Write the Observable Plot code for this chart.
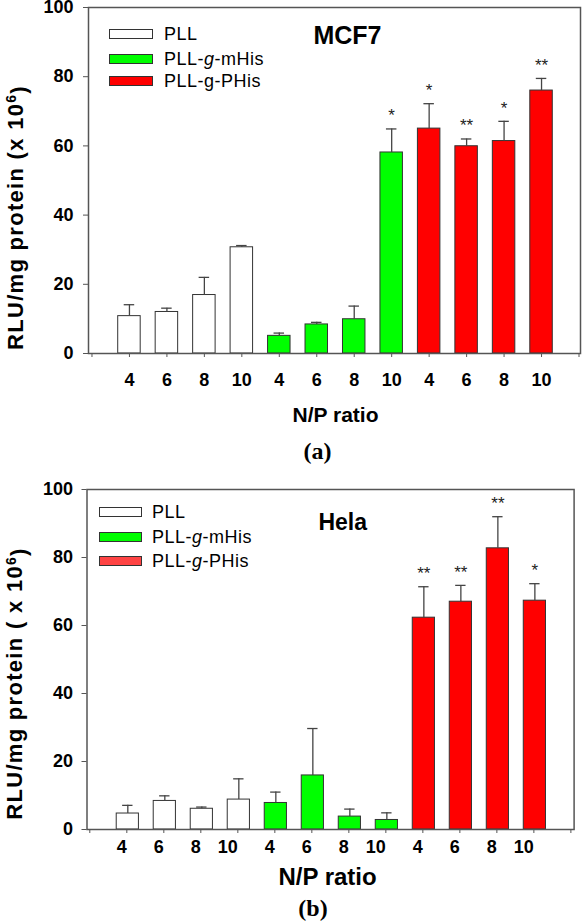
<!DOCTYPE html>
<html><head><meta charset="utf-8">
<script src="https://cdn.jsdelivr.net/npm/d3@7"></script>
<script src="https://cdn.jsdelivr.net/npm/@observablehq/plot@0.6"></script>
<style>
body{margin:0;background:#fff;}
#wrap{position:relative;width:584px;height:922px;font-family:"Liberation Sans",Arial,sans-serif;color:#000;overflow:hidden;}
.pane{position:absolute;left:0;}
.sw{position:absolute;box-sizing:border-box;border:1px solid #333;height:10px;}
.lt{position:absolute;font-size:18px;letter-spacing:0.5px;line-height:20px;white-space:nowrap;}
.ttl{position:absolute;font-weight:bold;transform:translate(-50%,-50%);white-space:nowrap;}
.cap{position:absolute;font-family:"Liberation Serif","Times New Roman",serif;font-weight:bold;font-size:24px;transform:translate(-50%,-50%);white-space:nowrap;}
</style>
</head><body><div id="wrap"></div>
<script>
// ---- data ----
const npLabels = ["4", "6", "8", "10"];
const groups = ["PLL", "PLL-g-mHis", "PLL-g-PHis"];
const barColors = ["#ffffff", "#00ff00", "#ff0000"];
const helaLegendColors = ["#ffffff", "#00ff00", "#ff4444"];
const yTicks = [0, 20, 40, 60, 80, 100];

const mcf7Mean = [10.8, 12.0, 16.9, 30.7, 5.1, 8.4, 9.9, 58.1, 65.0, 59.9, 61.4, 76.0];
const mcf7SD   = [3.3, 1.1, 5.1, 0.5, 0.8, 0.6, 3.8, 6.8, 7.2, 2.1, 5.7, 3.5];
const mcf7Sig  = ["", "", "", "", "", "", "", "*", "*", "**", "*", "**"];

const helaMean = [4.7, 8.4, 6.1, 8.8, 7.8, 15.9, 3.8, 2.8, 62.3, 67.0, 82.7, 67.3];
const helaSD   = [2.4, 1.5, 0.5, 6.1, 3.2, 13.8, 2.2, 2.1, 9.1, 4.8, 9.3, 5.0];
const helaSig  = ["", "", "", "", "", "", "", "", "**", "**", "**", "*"];

const FONT = '"Liberation Sans", Arial, sans-serif';
const wrap = document.getElementById("wrap");

function rows(means, sds, sig) {
  return means.map((m, i) => ({
    pos: i + 1,
    group: groups[Math.floor(i / 4)],
    label: npLabels[i % 4],
    mean: m,
    top: m + sds[i],
    sig: sig[i]
  }));
}

function panel(cfg) {
  const data = rows(cfg.means, cfg.sds, cfg.sig);
  const yTitle = cfg.yTitle;
  const svg = Plot.plot({
    width: 584,
    height: cfg.height,
    marginLeft: cfg.ml, marginRight: cfg.mr, marginTop: cfg.mt, marginBottom: cfg.mb,
    style: {fontFamily: FONT, background: "transparent", overflow: "visible"},
    x: {domain: cfg.xDomain},
    y: {domain: [0, 100]},
    color: {domain: groups, range: barColors},
    marks: [
      Plot.rectY(data, {x1: d => d.pos - 0.3, x2: d => d.pos + 0.3, y1: 0, y2: "mean", fill: "group", stroke: "#333", strokeWidth: 1}),
      Plot.ruleX(data, {x: "pos", y1: "mean", y2: "top", stroke: "#444", strokeWidth: 1.3}),
      Plot.ruleY(data, {y: "top", x1: d => d.pos - 0.14, x2: d => d.pos + 0.14, stroke: "#444", strokeWidth: 1.3}),
      Plot.text(data.filter(d => d.sig), {x: "pos", y: "top", text: "sig", dy: cfg.starDy, fontSize: 17, fill: "#222"}),
      Plot.frame({stroke: "#555", strokeWidth: 1.5}),
      Plot.axisY({ticks: yTicks, tickSize: 5, tickPadding: cfg.yPad, fontSize: 18, fontWeight: "bold", label: null, stroke: "#555"}),
      Plot.axisX({ticks: d3.range(14), tickFormat: i => (i >= 1 && i <= 12) ? npLabels[(i - 1) % 4] : "",
        tickSize: 4, tickPadding: cfg.xPad, fontSize: 18, fontWeight: "bold", label: null, stroke: "#555",
        textAnchor: cfg.xAnchor, dx: cfg.xDx}),
      Plot.text([yTitle], {text: d => d, frameAnchor: "left", textAnchor: "middle", lineAnchor: "middle", rotate: -90, dx: cfg.yTitleDx, dy: cfg.yTitleDy, fontSize: 22, fontWeight: "bold"}),
      Plot.text(["N/P ratio"], {text: d => d, frameAnchor: "bottom", textAnchor: "middle", lineAnchor: "middle", dx: cfg.xTitleDx, dy: cfg.xTitleDy, fontSize: cfg.xTitleSize, fontWeight: "bold"})
    ]
  });
  // superscript 6 in the y title, slightly wider tracking like the original
  d3.select(svg).selectAll("text").filter(function() { return this.textContent === yTitle; })
    .each(function() {
      const t = d3.select(this);
      t.text(null);
      t.style("letter-spacing", "1.3px");
      t.append("tspan").text(yTitle.replace(")", ""));
      t.append("tspan").attr("dy", "-0.45em").attr("font-size", "14px").text("6");
      t.append("tspan").attr("dy", "0.45em").text(")");
    });
  const div = document.createElement("div");
  div.className = "pane";
  div.style.top = cfg.top + "px";
  div.appendChild(svg);
  wrap.appendChild(div);
}

panel({
  top: 0, height: 430, ml: 88, mr: 4, mt: 7, mb: 77,
  xDomain: [-0.093, 13.04],
  means: mcf7Mean, sds: mcf7SD, sig: mcf7Sig,
  starDy: -13, yPad: 10, xPad: 16, xAnchor: "middle", xDx: 0,
  yTitle: "RLU/mg protein (x 10)", yTitleDx: -73, yTitleDy: 37,
  xTitleDx: 1, xTitleDy: 62, xTitleSize: 21
});

panel({
  top: 470, height: 425, ml: 86.5, mr: 10.4, mt: 19, mb: 66,
  xDomain: [-0.103, 13.06],
  means: helaMean, sds: helaSD, sig: helaSig,
  starDy: -13, yPad: 9, xPad: 7, xAnchor: "end", xDx: -1,
  yTitle: "RLU/mg protein ( x 10)", yTitleDx: -72, yTitleDy: 24,
  xTitleDx: -3, xTitleDy: 48, xTitleSize: 24
});

// legends
function legend(x0, w, textX, ys, colors, italicLast) {
  groups.forEach((g, i) => {
    const sw = document.createElement("div");
    sw.className = "sw";
    sw.style.left = x0 + "px";
    sw.style.width = w + "px";
    sw.style.top = (ys[i] - 5) + "px";
    sw.style.background = colors[i];
    wrap.appendChild(sw);
    const t = document.createElement("div");
    t.className = "lt";
    t.style.left = textX + "px";
    t.style.top = (ys[i] - 10) + "px";
    const parts = g.split("-g-");
    if (parts.length === 2 && (i === 1 || italicLast)) {
      t.innerHTML = parts[0] + "-<i>g</i>-" + parts[1];
    } else {
      t.textContent = g;
    }
    wrap.appendChild(t);
  });
}
legend(109, 44, 164, [34, 58.5, 81], barColors, false);
legend(98.5, 43, 152, [512, 537, 561], helaLegendColors, true);

function label(cls, text, x, y, size) {
  const d = document.createElement("div");
  d.className = cls;
  d.style.left = x + "px";
  d.style.top = y + "px";
  if (size) d.style.fontSize = size + "px";
  d.textContent = text;
  wrap.appendChild(d);
}
label("ttl", "MCF7", 347.5, 35, 25);
label("ttl", "Hela", 342.7, 522, 23);
label("cap", "(a)", 317.5, 451);
label("cap", "(b)", 313, 908);
</script>
</body></html>
